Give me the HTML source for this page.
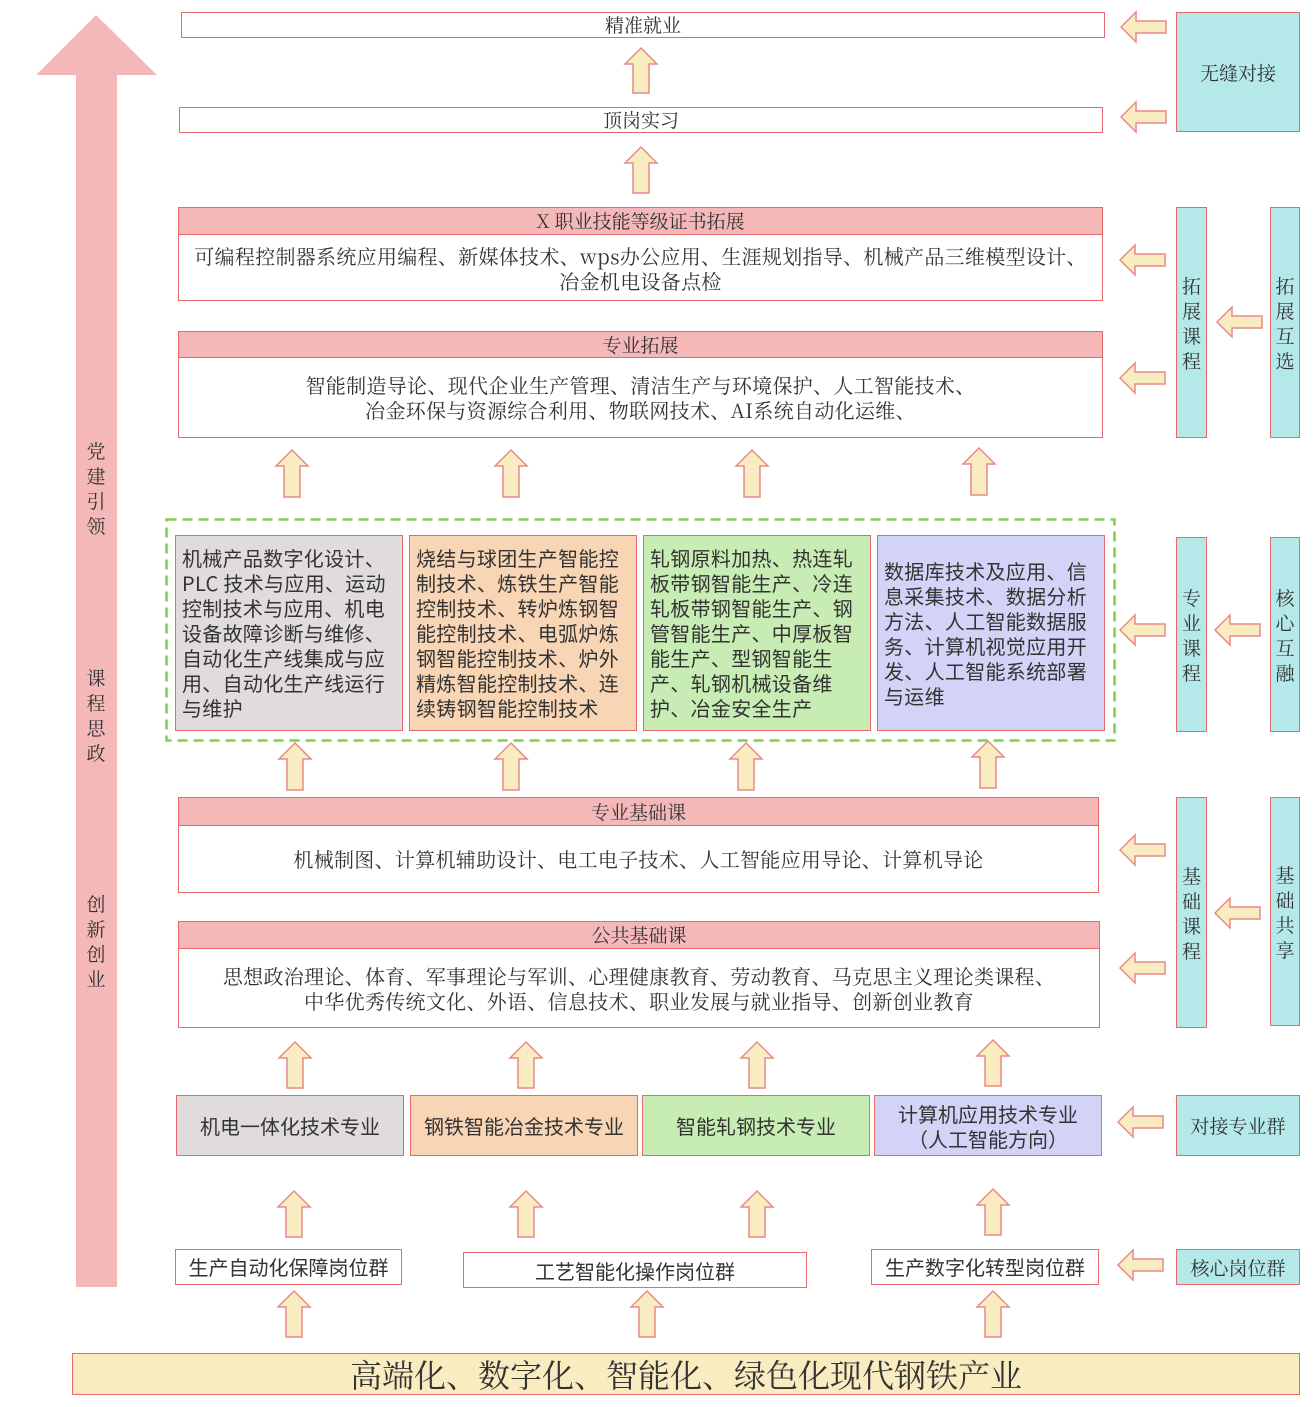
<!DOCTYPE html>
<html><head><meta charset="utf-8"><style>
body{margin:0;width:1313px;height:1407px;background:#fff;position:relative;overflow:hidden;font-family:"Noto Serif CJK SC","Liberation Serif",serif;color:#333}
.b{position:absolute;box-sizing:border-box;border:1.5px solid #e8696b;background:#fff;text-align:center;white-space:nowrap}
.h{background:#f4b8b8}
.s{font-family:"Noto Sans CJK SC","Liberation Sans",sans-serif}
.t{position:absolute;text-align:center;font-size:19px}
.L{font-size:20px;letter-spacing:0.3px}
.c{position:absolute;box-sizing:border-box;border:1.5px solid #e8696b;font-family:"Noto Sans CJK SC","Liberation Sans",sans-serif;font-size:20px;line-height:25px;text-align:left;padding:9px 6px;white-space:nowrap;letter-spacing:0.3px}
.v{position:absolute;box-sizing:border-box;border:1.5px solid #e8696b;background:#b5e8e8;font-size:19px;line-height:25px;text-align:center;display:flex;align-items:center;justify-content:center}
.lv{position:absolute;left:86px;width:20px;font-size:19px;line-height:25px;text-align:center}
</style></head><body>
<svg width="1313" height="1407" style="position:absolute;left:0;top:0">
<polygon points="96,15 157,75 117,75 117,1287 76,1287 76,75 36,75" fill="#f4b8b8"/>
<g fill="#f8ecc0" stroke="#e98a8a" stroke-width="1.5">
<polygon points="641,48 657,64 649,64 649,93 633,93 633,64 625,64"/>
<polygon points="641,147 657,163 649,163 649,193 633,193 633,163 625,163"/>
<polygon points="292,450 308,466 300,466 300,497 284,497 284,466 276,466"/>
<polygon points="511,450 527,466 519,466 519,497 503,497 503,466 495,466"/>
<polygon points="752,450 768,466 760,466 760,497 744,497 744,466 736,466"/>
<polygon points="979,448 995,464 987,464 987,495 971,495 971,464 963,464"/>
<polygon points="295,743 311,759 303,759 303,790 287,790 287,759 279,759"/>
<polygon points="511,743 527,759 519,759 519,790 503,790 503,759 495,759"/>
<polygon points="746,743 762,759 754,759 754,790 738,790 738,759 730,759"/>
<polygon points="988,741 1004,757 996,757 996,788 980,788 980,757 972,757"/>
<polygon points="295,1042 311,1058 303,1058 303,1088 287,1088 287,1058 279,1058"/>
<polygon points="526,1042 542,1058 534,1058 534,1088 518,1088 518,1058 510,1058"/>
<polygon points="757,1042 773,1058 765,1058 765,1088 749,1088 749,1058 741,1058"/>
<polygon points="993,1040 1009,1056 1001,1056 1001,1086 985,1086 985,1056 977,1056"/>
<polygon points="294,1191 310,1207 302,1207 302,1237 286,1237 286,1207 278,1207"/>
<polygon points="526,1191 542,1207 534,1207 534,1237 518,1237 518,1207 510,1207"/>
<polygon points="757,1191 773,1207 765,1207 765,1237 749,1237 749,1207 741,1207"/>
<polygon points="993,1189 1009,1205 1001,1205 1001,1235 985,1235 985,1205 977,1205"/>
<polygon points="294,1291 310,1307 302,1307 302,1337 286,1337 286,1307 278,1307"/>
<polygon points="647,1291 663,1307 655,1307 655,1337 639,1337 639,1307 631,1307"/>
<polygon points="993,1291 1009,1307 1001,1307 1001,1337 985,1337 985,1307 977,1307"/>
<polygon points="1121,27 1136,12 1136,21 1166,21 1166,33 1136,33 1136,42"/>
<polygon points="1121,117 1136,102 1136,111 1166,111 1166,123 1136,123 1136,132"/>
<polygon points="1120,260 1135,245 1135,254 1165,254 1165,266 1135,266 1135,275"/>
<polygon points="1120,378 1135,363 1135,372 1165,372 1165,384 1135,384 1135,393"/>
<polygon points="1217,322 1232,307 1232,316 1262,316 1262,328 1232,328 1232,337"/>
<polygon points="1120,630 1135,615 1135,624 1165,624 1165,636 1135,636 1135,645"/>
<polygon points="1215,630 1230,615 1230,624 1260,624 1260,636 1230,636 1230,645"/>
<polygon points="1120,850 1135,835 1135,844 1165,844 1165,856 1135,856 1135,865"/>
<polygon points="1120,968 1135,953 1135,962 1165,962 1165,974 1135,974 1135,983"/>
<polygon points="1215,913 1230,898 1230,907 1260,907 1260,919 1230,919 1230,928"/>
<polygon points="1118,1122 1133,1107 1133,1116 1163,1116 1163,1128 1133,1128 1133,1137"/>
<polygon points="1118,1265 1133,1250 1133,1259 1163,1259 1163,1271 1133,1271 1133,1280"/>
</g>
<rect x="166.5" y="519.5" width="948" height="221" fill="none" stroke="#7ed04f" stroke-width="2.5" stroke-dasharray="10,6"/>
</svg>

<div class="lv" style="top:438px">党<br>建<br>引<br>领</div>
<div class="lv" style="top:665px">课<br>程<br>思<br>政</div>
<div class="lv" style="top:891px">创<br>新<br>创<br>业</div>

<div class="b t" style="left:181px;top:12px;width:924px;height:26px;line-height:24px">精准就业</div>
<div class="b t" style="left:179px;top:107px;width:924px;height:26px;line-height:24px">顶岗实习</div>

<div class="b h t" style="left:178px;top:207px;width:925px;height:28px;line-height:26px">X 职业技能等级证书拓展</div>
<div class="b t L" style="left:178px;top:234px;width:925px;height:67px;padding-top:8px;line-height:25px">可编程控制器系统应用编程、新媒体技术、wps办公应用、生涯规划指导、机械产品三维模型设计、<br>冶金机电设备点检</div>

<div class="b h t" style="left:178px;top:331px;width:925px;height:27px;line-height:25px">专业拓展</div>
<div class="b t L" style="left:178px;top:357px;width:925px;height:81px;padding-top:14px;line-height:25px">智能制造导论、现代企业生产管理、清洁生产与环境保护、人工智能技术、<br>冶金环保与资源综合利用、物联网技术、AI系统自动化运维、</div>

<div class="c" style="left:175px;top:535px;width:228px;height:196px;background:#e0dcdc">机械产品数字化设计、<br>PLC 技术与应用、运动<br>控制技术与应用、机电<br>设备故障诊断与维修、<br>自动化生产线集成与应<br>用、自动化生产线运行<br>与维护</div>
<div class="c" style="left:409px;top:535px;width:228px;height:196px;background:#f8d5b5">烧结与球团生产智能控<br>制技术、炼铁生产智能<br>控制技术、转炉炼钢智<br>能控制技术、电弧炉炼<br>钢智能控制技术、炉外<br>精炼智能控制技术、连<br>续铸钢智能控制技术</div>
<div class="c" style="left:643px;top:535px;width:228px;height:196px;background:#c8edb4">轧钢原料加热、热连轧<br>板带钢智能生产、冷连<br>轧板带钢智能生产、钢<br>管智能生产、中厚板智<br>能生产、型钢智能生<br>产、轧钢机械设备维<br>护、冶金安全生产</div>
<div class="c" style="left:877px;top:535px;width:228px;height:196px;background:#d3d3f7;padding-top:22px">数据库技术及应用、信<br>息采集技术、数据分析<br>方法、人工智能数据服<br>务、计算机视觉应用开<br>发、人工智能系统部署<br>与运维</div>

<div class="b h t" style="left:178px;top:797px;width:921px;height:29px;line-height:27px">专业基础课</div>
<div class="b t L" style="left:178px;top:825px;width:921px;height:68px;line-height:66px">机械制图、计算机辅助设计、电工电子技术、人工智能应用导论、计算机导论</div>

<div class="b h t" style="left:178px;top:921px;width:922px;height:28px;line-height:26px">公共基础课</div>
<div class="b t L" style="left:178px;top:948px;width:922px;height:80px;padding-top:14px;line-height:25px">思想政治理论、体育、军事理论与军训、心理健康教育、劳动教育、马克思主义理论类课程、<br>中华优秀传统文化、外语、信息技术、职业发展与就业指导、创新创业教育</div>

<div class="b s t" style="left:176px;top:1095px;width:228px;height:61px;line-height:59px;background:#e0dcdc;font-size:20px">机电一体化技术专业</div>
<div class="b s t" style="left:410px;top:1095px;width:228px;height:61px;line-height:59px;background:#f8d5b5;font-size:20px">钢铁智能冶金技术专业</div>
<div class="b s t" style="left:642px;top:1095px;width:228px;height:61px;line-height:59px;background:#c8edb4;font-size:20px">智能轧钢技术专业</div>
<div class="b s t" style="left:874px;top:1095px;width:228px;height:61px;background:#d3d3f7;font-size:20px;line-height:25px;padding-top:5px">计算机应用技术专业<br>（人工智能方向）</div>

<div class="b s t" style="left:175px;top:1249px;width:227px;height:36px;line-height:34px;font-size:20px">生产自动化保障岗位群</div>
<div class="b s t" style="left:463px;top:1252px;width:344px;height:36px;line-height:36px;font-size:20px">工艺智能化操作岗位群</div>
<div class="b s t" style="left:871px;top:1249px;width:228px;height:36px;line-height:34px;font-size:20px">生产数字化转型岗位群</div>

<div class="b" style="left:72px;top:1353px;width:1228px;height:42px;line-height:40px;background:#f8ecc0;font-size:32px">高端化、数字化、智能化、绿色化现代钢铁产业</div>

<div class="v" style="left:1176px;top:12px;width:124px;height:120px">无缝对接</div>
<div class="v" style="left:1176px;top:207px;width:31px;height:231px">拓<br>展<br>课<br>程</div>
<div class="v" style="left:1270px;top:207px;width:30px;height:231px">拓<br>展<br>互<br>选</div>
<div class="v" style="left:1176px;top:537px;width:31px;height:195px">专<br>业<br>课<br>程</div>
<div class="v" style="left:1270px;top:537px;width:30px;height:195px">核<br>心<br>互<br>融</div>
<div class="v" style="left:1176px;top:797px;width:31px;height:231px">基<br>础<br>课<br>程</div>
<div class="v" style="left:1270px;top:797px;width:30px;height:229px">基<br>础<br>共<br>享</div>
<div class="v" style="left:1176px;top:1095px;width:124px;height:61px">对接专业群</div>
<div class="v" style="left:1176px;top:1249px;width:124px;height:36px">核心岗位群</div>
</body></html>
